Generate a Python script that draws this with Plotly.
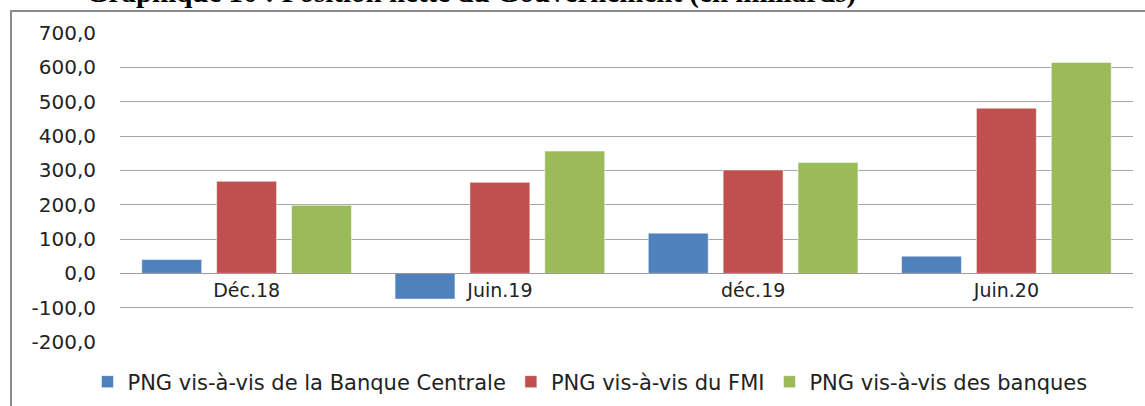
import plotly.graph_objects as go

categories = ["Déc.18", "Juin.19", "déc.19", "Juin.20"]
series_names = ["PNG vis-à-vis de la Banque Centrale", "PNG vis-à-vis du FMI", "PNG vis-à-vis des banques"]
banque_centrale = [40, -75, 117, 50]
fmi = [268, 265, 301, 481]
banques = [198, 356, 323, 614]
tick_vals = [-200, -100, 0, 100, 200, 300, 400, 500, 600, 700]
tick_text = ["-200,0", "-100,0", "0,0", "100,0", "200,0", "300,0", "400,0", "500,0", "600,0", "700,0"]
colors = ["#4F81BD", "#C0504D", "#9BBB59"]
title = "Graphique 10 : Position nette du Gouvernement (en milliards)"

W, H = 1145, 406
sx0, sx1, sy0, sy1 = 120, 1133, 33, 342
ml, mt = sx0, sy0
mr, mb = W - sx1, H - sy1
pw, ph = W - ml - mr, H - mt - mb

def px_to_paper_x(px):
    return (px - ml) / pw

def px_to_paper_y(py):
    return (H - mb - py) / ph

fig = go.Figure()
for name, vals, col in zip(series_names, [banque_centrale, fmi, banques], colors):
    fig.add_trace(go.Bar(x=categories, y=vals, name=name, marker=dict(color=col, line=dict(color="rgba(255,255,255,0.5)", width=1))))

ymin, ymax = -200, 700
fig.update_layout(
    width=W, height=H,
    margin=dict(l=ml, r=mr, t=mt, b=mb, autoexpand=False),
    paper_bgcolor="white", plot_bgcolor="white",
    barmode="group", bargap=0.113, bargroupgap=0.2,
    font=dict(family="DejaVu Sans", size=20, color="#222222"),
    xaxis=dict(anchor="free", position=(0 - ymin) / (ymax - ymin), showline=True, linecolor="#9a9a9a", linewidth=1,
               ticks="", showgrid=False, tickfont=dict(size=19), ticklabelstandoff=0),
    yaxis=dict(range=[ymin, ymax], tickvals=tick_vals, ticktext=tick_text, showgrid=True, gridcolor="#a6a6a6",
               gridwidth=1, zeroline=False, showline=False, ticks="", tickfont=dict(size=20), ticklabelstandoff=23),
    legend=dict(orientation="h", x=px_to_paper_x(590), xanchor="center", y=px_to_paper_y(382), yanchor="middle",
                font=dict(size=21), itemwidth=30, traceorder="normal"),
    showlegend=True,
)

# outer chart border (left and top visible)
fig.add_shape(type="rect", xref="paper", yref="paper",
              x0=px_to_paper_x(11), x1=px_to_paper_x(1170), y0=px_to_paper_y(430), y1=px_to_paper_y(11),
              line=dict(color="#8c8c8c", width=2), fillcolor="rgba(0,0,0,0)", layer="above")

# cropped title
fig.add_annotation(text="<b>" + title + "</b>", xref="paper", yref="paper",
                   x=px_to_paper_x(471), y=px_to_paper_y(11), xanchor="center", yanchor="bottom",
                   showarrow=False, font=dict(family="Liberation Serif", size=29, color="black"))

fig.write_html("out.html", config={"displayModeBar": False},
               post_script="document.body.style.margin='0';document.body.style.overflow='hidden';")
